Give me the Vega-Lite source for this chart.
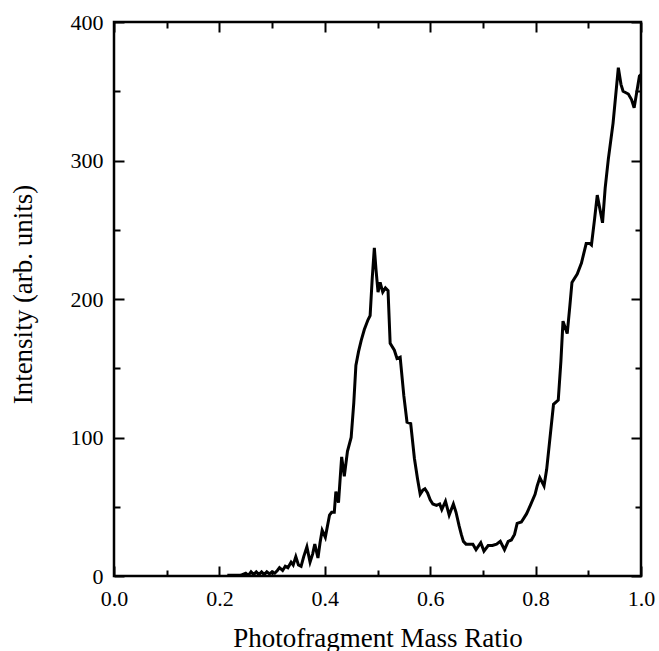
{
  "$schema": "https://vega.github.io/schema/vega-lite/v6.json",
  "width": 527,
  "height": 554,
  "autosize": {"type": "none"},
  "padding": {"left": 114, "top": 22, "right": 18, "bottom": 75},
  "background": "white",
  "config": {
    "view": {"stroke": "black", "strokeWidth": 2.5},
    "font": "Liberation Serif",
    "axis": {"grid": false, "domain": false, "tickColor": "black", "tickWidth": 2, "labelFont": "Liberation Serif", "labelFontSize": 22, "labelColor": "black", "labelFlush": false}
  },
  "data": {"values": [
    {"r": 0.215, "i": 0.5}, {"r": 0.24, "i": 0.5}, {"r": 0.25, "i": 2}, {"r": 0.255, "i": 0.5}, {"r": 0.26, "i": 3}, {"r": 0.265, "i": 1},
    {"r": 0.27, "i": 3}, {"r": 0.275, "i": 1}, {"r": 0.28, "i": 3}, {"r": 0.285, "i": 1}, {"r": 0.29, "i": 3}, {"r": 0.295, "i": 1.5},
    {"r": 0.30, "i": 3}, {"r": 0.305, "i": 2}, {"r": 0.31, "i": 4}, {"r": 0.314, "i": 6}, {"r": 0.32, "i": 4}, {"r": 0.325, "i": 7},
    {"r": 0.33, "i": 6}, {"r": 0.336, "i": 10}, {"r": 0.34, "i": 8}, {"r": 0.345, "i": 14}, {"r": 0.35, "i": 8}, {"r": 0.355, "i": 7},
    {"r": 0.36, "i": 14}, {"r": 0.366, "i": 21}, {"r": 0.372, "i": 10}, {"r": 0.377, "i": 16}, {"r": 0.381, "i": 23}, {"r": 0.387, "i": 13},
    {"r": 0.391, "i": 24}, {"r": 0.395, "i": 33}, {"r": 0.401, "i": 28}, {"r": 0.405, "i": 36}, {"r": 0.409, "i": 44}, {"r": 0.413, "i": 46},
    {"r": 0.418, "i": 46}, {"r": 0.421, "i": 61}, {"r": 0.426, "i": 53}, {"r": 0.432, "i": 86}, {"r": 0.437, "i": 72}, {"r": 0.443, "i": 90},
    {"r": 0.45, "i": 100}, {"r": 0.455, "i": 125}, {"r": 0.459, "i": 152}, {"r": 0.464, "i": 162}, {"r": 0.469, "i": 170}, {"r": 0.475, "i": 178},
    {"r": 0.482, "i": 185}, {"r": 0.486, "i": 188}, {"r": 0.49, "i": 215}, {"r": 0.494, "i": 237}, {"r": 0.497, "i": 222}, {"r": 0.501, "i": 205},
    {"r": 0.505, "i": 212}, {"r": 0.51, "i": 205}, {"r": 0.515, "i": 208}, {"r": 0.52, "i": 206}, {"r": 0.524, "i": 168}, {"r": 0.532, "i": 163},
    {"r": 0.537, "i": 157}, {"r": 0.543, "i": 158}, {"r": 0.55, "i": 130}, {"r": 0.556, "i": 111}, {"r": 0.563, "i": 110}, {"r": 0.57, "i": 85},
    {"r": 0.576, "i": 70}, {"r": 0.581, "i": 59}, {"r": 0.586, "i": 62}, {"r": 0.59, "i": 63}, {"r": 0.595, "i": 60}, {"r": 0.60, "i": 55},
    {"r": 0.605, "i": 52}, {"r": 0.612, "i": 51}, {"r": 0.618, "i": 52}, {"r": 0.622, "i": 48}, {"r": 0.629, "i": 54}, {"r": 0.636, "i": 44},
    {"r": 0.644, "i": 52}, {"r": 0.649, "i": 46}, {"r": 0.655, "i": 36}, {"r": 0.659, "i": 30}, {"r": 0.663, "i": 25}, {"r": 0.668, "i": 23},
    {"r": 0.675, "i": 23}, {"r": 0.681, "i": 23}, {"r": 0.687, "i": 19}, {"r": 0.696, "i": 24}, {"r": 0.702, "i": 18}, {"r": 0.71, "i": 22},
    {"r": 0.718, "i": 22}, {"r": 0.726, "i": 23}, {"r": 0.733, "i": 25}, {"r": 0.741, "i": 19}, {"r": 0.748, "i": 25}, {"r": 0.754, "i": 26},
    {"r": 0.76, "i": 30}, {"r": 0.765, "i": 38}, {"r": 0.773, "i": 39}, {"r": 0.778, "i": 42}, {"r": 0.783, "i": 45}, {"r": 0.79, "i": 51},
    {"r": 0.799, "i": 59}, {"r": 0.803, "i": 65}, {"r": 0.808, "i": 71}, {"r": 0.816, "i": 65}, {"r": 0.821, "i": 77}, {"r": 0.826, "i": 95},
    {"r": 0.834, "i": 124}, {"r": 0.843, "i": 127}, {"r": 0.848, "i": 155}, {"r": 0.852, "i": 184}, {"r": 0.86, "i": 175}, {"r": 0.865, "i": 195},
    {"r": 0.869, "i": 212}, {"r": 0.879, "i": 218}, {"r": 0.887, "i": 226}, {"r": 0.896, "i": 240}, {"r": 0.903, "i": 240}, {"r": 0.906, "i": 239},
    {"r": 0.912, "i": 258}, {"r": 0.917, "i": 275}, {"r": 0.922, "i": 265}, {"r": 0.927, "i": 255}, {"r": 0.932, "i": 280}, {"r": 0.938, "i": 301},
    {"r": 0.947, "i": 327}, {"r": 0.957, "i": 367}, {"r": 0.962, "i": 355}, {"r": 0.966, "i": 350}, {"r": 0.976, "i": 348}, {"r": 0.982, "i": 344},
    {"r": 0.987, "i": 338}, {"r": 0.997, "i": 361}, {"r": 1.0, "i": 362}
  ]},
  "layer": [
    {
      "mark": {"type": "line", "color": "black", "strokeWidth": 3, "clip": true},
      "encoding": {
        "x": {"field": "r", "type": "quantitative", "scale": {"domain": [0, 1], "nice": false, "zero": false},
              "axis": {"orient": "bottom", "values": [0, 0.2, 0.4, 0.6, 0.8, 1.0], "format": ".1f", "tickSize": -10, "labelPadding": 22,
                       "title": "Photofragment Mass Ratio", "titleFont": "Liberation Serif", "titleFontSize": 27, "titleFontWeight": "normal", "titleColor": "black", "titleBaseline": "alphabetic", "titleY": 70}},
        "y": {"field": "i", "type": "quantitative", "scale": {"domain": [0, 400], "nice": false},
              "axis": {"orient": "left", "values": [0, 100, 200, 300, 400], "format": "d", "tickSize": -10, "labelPadding": 21,
                       "title": "Intensity (arb. units)", "titleFont": "Liberation Serif", "titleFontSize": 27, "titleFontWeight": "normal", "titleColor": "black", "titleBaseline": "alphabetic", "titleX": -83, "titleY": 272}}
      }
    },
    {
      "mark": {"type": "line", "opacity": 0},
      "encoding": {
        "x": {"field": "r", "type": "quantitative", "axis": {"orient": "bottom", "values": [0.1, 0.3, 0.5, 0.7, 0.9], "tickSize": -6, "labels": false, "title": null}},
        "y": {"field": "i", "type": "quantitative", "axis": {"orient": "left", "values": [50, 150, 250, 350], "tickSize": -6, "labels": false, "title": null}}
      }
    },
    {
      "mark": {"type": "line", "opacity": 0},
      "encoding": {
        "x": {"field": "r", "type": "quantitative", "axis": {"orient": "top", "values": [0, 0.2, 0.4, 0.6, 0.8, 1.0], "tickSize": -10, "labels": false, "title": null}},
        "y": {"field": "i", "type": "quantitative", "axis": {"orient": "right", "values": [0, 100, 200, 300, 400], "tickSize": -10, "labels": false, "title": null}}
      }
    },
    {
      "mark": {"type": "line", "opacity": 0},
      "encoding": {
        "x": {"field": "r", "type": "quantitative", "axis": {"orient": "top", "values": [0.1, 0.3, 0.5, 0.7, 0.9], "tickSize": -6, "labels": false, "title": null}},
        "y": {"field": "i", "type": "quantitative", "axis": {"orient": "right", "values": [50, 150, 250, 350], "tickSize": -6, "labels": false, "title": null}}
      }
    }
  ],
  "resolve": {"axis": {"x": "independent", "y": "independent"}}
}
